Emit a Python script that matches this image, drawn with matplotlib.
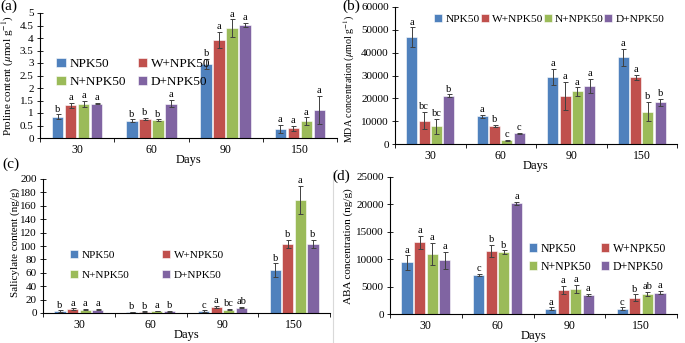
import matplotlib
matplotlib.use("Agg")
import matplotlib.pyplot as plt
import numpy as np
from matplotlib.lines import Line2D
from matplotlib.ticker import FuncFormatter

plt.rcParams["font.family"] = ["Liberation Serif", "DejaVu Serif"]
plt.rcParams["mathtext.fontset"] = "stix"

DAYS = ["30", "60", "90", "150"]
TREATMENTS = ["NPK50", "W+NPK50", "N+NPK50", "D+NPK50"]
COLORS = ["#4F81BD", "#C0504D", "#9BBB59", "#8064A2"]

# (a) proline, one row per treatment, columns = days
proline = [[0.85, 0.70, 2.98, 0.37],
           [1.32, 0.78, 3.92, 0.40],
           [1.38, 0.72, 4.40, 0.68],
           [1.38, 1.38, 4.53, 1.12]]
proline_err = [[0.10, 0.05, 0.20, 0.17],
               [0.10, 0.04, 0.33, 0.10],
               [0.12, 0.03, 0.35, 0.15],
               [0.03, 0.15, 0.08, 0.57]]
proline_let = [["b", "b", "b", "a"],
               ["a", "b", "a", "a"],
               ["a", "b", "a", "a"],
               ["a", "a", "a", "a"]]

# (b) MDA
mda = [[46800, 12200, 29500, 38000],
       [10200, 7900, 21000, 29200],
       [7700, 1600, 23000, 14200],
       [21200, 4700, 25500, 18300]]
mda_err = [[4300, 600, 3500, 3800],
           [3800, 600, 6300, 1000],
           [3300, 300, 1800, 4300],
           [500, 300, 3100, 1500]]
mda_let = [["a", "a", "a", "a"],
           ["bc", "b", "a", "a"],
           ["bc", "c", "a", "b"],
           ["b", "c", "a", "b"]]

# (c) salicylate
sal = [[3, 1.5, 3, 64],
       [6, 2, 9, 103],
       [5, 3, 5, 169],
       [5, 2.5, 8, 103]]
sal_err = [[1, 0.5, 1, 10],
           [1, 0.5, 2, 6],
           [1, 0.5, 1, 21],
           [1, 0.5, 1, 6]]
sal_let = [["b", "b", "c", "b"],
           ["a", "b", "a", "b"],
           ["a", "a", "bc", "a"],
           ["a", "b", "ab", "b"]]

# (d) ABA
aba = [[9400, 7100, 1000, 1000],
       [13100, 11500, 4400, 3000],
       [11000, 11300, 4600, 3700],
       [9800, 20200, 3500, 3900]]
aba_err = [[1300, 200, 200, 200],
           [1200, 1100, 700, 600],
           [2000, 300, 700, 400],
           [1600, 300, 200, 300]]
aba_let = [["a", "c", "a", "c"],
           ["a", "b", "a", "b"],
           ["a", "b", "a", "ab"],
           ["a", "a", "a", "a"]]

W, H = 685, 343
fig = plt.figure(figsize=(W / 100, H / 100), dpi=100)


def px_axes(left, top, right, bottom):
    return fig.add_axes([left / W, 1 - bottom / H, (right - left) / W, (bottom - top) / H])


def panel(ax, vals, errs, lets, ymax, ystep, ylabel, fmt, ylsize=8, ylpos=None):
    x = np.arange(len(DAYS))
    step, width = 0.175, 0.155
    for i, (v, e, l) in enumerate(zip(vals, errs, lets)):
        xs = x + (i - 1.5) * step
        ax.bar(xs, v, width, color=COLORS[i], edgecolor="white", linewidth=0.4,
               label=TREATMENTS[i], zorder=2)
        ax.errorbar(xs, v, yerr=e, fmt="none", ecolor="#404040", elinewidth=0.7,
                    capsize=1.8, capthick=0.7, zorder=3)
        for xx, vv, ee, ll in zip(xs, v, e, l):
            ax.text(xx, vv + ee + ymax * 0.005, ll, ha="center", va="bottom",
                    fontsize=7.5)
    ax.set_xlim(-0.5, len(DAYS) - 0.5)
    ax.set_ylim(0, ymax)
    ax.set_yticks(np.arange(0, ymax + ystep / 2, ystep))
    ax.yaxis.set_major_formatter(FuncFormatter(fmt))
    ax.set_xticks(np.arange(-0.5, len(DAYS), 1.0))
    ax.set_xticklabels([])
    ax.set_xticks(x, minor=True)
    ax.set_xticklabels(DAYS, minor=True)
    ax.tick_params(axis="x", which="major", direction="out", length=3, width=0.6)
    ax.tick_params(axis="x", which="minor", length=0, labelsize=8.5, pad=4)
    ax.tick_params(axis="y", direction="inout", length=5, width=0.6, labelsize=8, pad=2)
    for s in ["top", "right"]:
        ax.spines[s].set_visible(False)
    for s in ["left", "bottom"]:
        ax.spines[s].set_linewidth(0.8)
    ax.set_xlabel("Days", fontsize=9, labelpad=-1)
    ax.set_ylabel(ylabel, fontsize=ylsize, labelpad=2)
    if ylpos is not None:
        # right edge of the rotated label (px) and its vertical centre (px)
        ax.yaxis.set_label_coords(ylpos[0] / W, 1 - ylpos[1] / H,
                                  transform=fig.transFigure)


def legend(ax, ncol, anchor, size, colsp, rowsp):
    h, l = ax.get_legend_handles_labels()
    if ncol == 2:
        # fill row by row like the original
        order = [0, 2, 1, 3]
        h = [h[k] for k in order]
        l = [l[k] for k in order]
    ax.legend(h, l, ncol=ncol, loc="upper left", bbox_to_anchor=anchor,
              frameon=False, fontsize=size, handlelength=0.7, handleheight=0.7,
              handletextpad=0.3, columnspacing=colsp, labelspacing=rowsp,
              borderpad=0, borderaxespad=0)


def g(v, _):
    return "{:g}".format(v)


def d(v, _):
    return "{:d}".format(int(v))


ax_a = px_axes(40, 13, 337, 138)
panel(ax_a, proline, proline_err, proline_let, 5, 0.5,
      r"Proline content ($\mu$mol g$^{-1}$)", g, ylsize=8, ylpos=(16, 76))
legend(ax_a, 2, (0.055, 0.64), 9.5, 0.9, 0.4)

ax_b = px_axes(395, 7, 677, 144)
panel(ax_b, mda, mda_err, mda_let, 60000, 10000,
      r"MDA concentration ($\mu$mol g$^{-1}$)", d, ylsize=7.2, ylpos=(357, 79))
legend(ax_b, 4, (0.14, 0.95), 8.2, 0.05, 0.5)

ax_c = px_axes(43, 179, 330, 313)
panel(ax_c, sal, sal_err, sal_let, 200, 20, "Salicylate content (ng/g)", d,
      ylpos=(20, 242))
legend(ax_c, 2, (0.095, 0.47), 8, 3.0, 0.95)

ax_d = px_axes(390, 177, 677, 314)
panel(ax_d, aba, aba_err, aba_let, 25000, 5000, "ABA concentration (ng/g)", d,
      ylpos=(353, 246))
legend(ax_d, 2, (0.485, 0.52), 8.5, 0.8, 0.5)

for lab, xx, yy in [("(a)", 0, 0), ("(b)", 342, 0), ("(c)", 2, 158), ("(d)", 332, 170)]:
    fig.text(xx / W, 1 - yy / H, lab, fontsize=11, ha="left", va="top")

# faint frame line between lower panels
fig.add_artist(Line2D([333 / W, 333 / W], [0, 1 - 172 / H], color="#d9d9d9", lw=0.8))

fig.savefig("out.png", dpi=100)
